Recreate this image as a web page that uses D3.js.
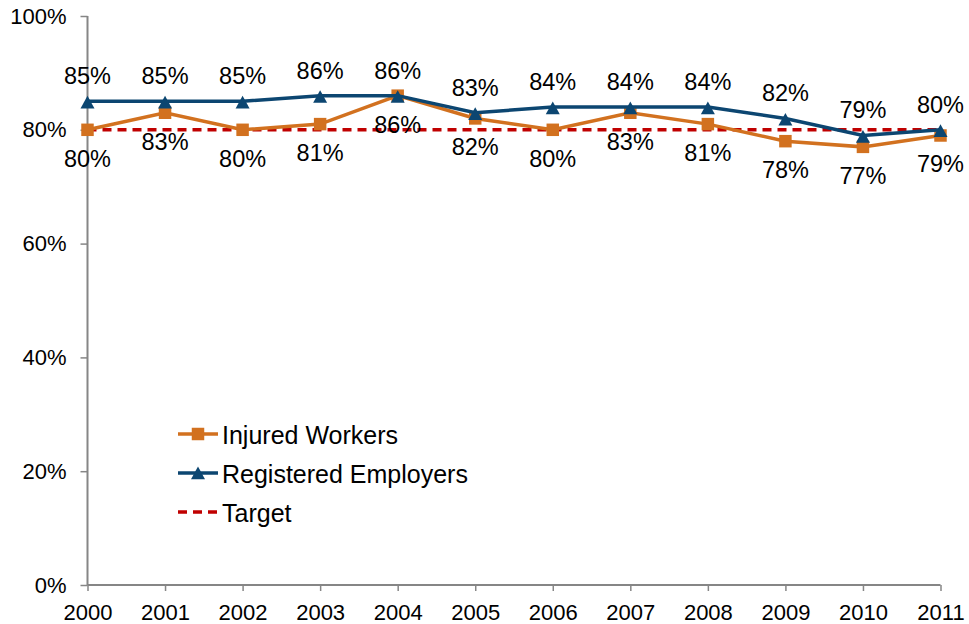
<!DOCTYPE html>
<html>
<head>
<meta charset="utf-8">
<script src="https://cdn.jsdelivr.net/npm/d3@7"></script>
<style>
  body { margin: 0; background: #fff; }
  text { font-family: "Liberation Sans", Arial, sans-serif; fill: #000; }
</style>
</head>
<body>
<svg id="chart" width="969" height="624"></svg>
<script>
// Data
var years = ["2000","2001","2002","2003","2004","2005","2006","2007","2008","2009","2010","2011"]
var injured_workers = [80, 83, 80, 81, 86, 82, 80, 83, 81, 78, 77, 79]
var registered_employers = [85, 85, 85, 86, 86, 83, 84, 84, 84, 82, 79, 80]
var target = [80, 80, 80, 80, 80, 80, 80, 80, 80, 80, 80, 80]
var y_ticks = [0, 20, 40, 60, 80, 100]

var svg = d3.select("#chart")

var x = d3.scalePoint().domain(years).range([87.5, 940.5])
var y = d3.scaleLinear().domain([0, 100]).range([585, 16])

var axis_colour = "#868686"
var orange = "#D2711F"
var navy = "#0C4671"
var red = "#C00000"

// Axes
var yAxis = svg.append("g")
    .attr("transform", "translate(87.5,0)")
    .call(d3.axisLeft(y).tickValues(y_ticks).tickSize(7).tickPadding(14)
        .tickFormat(function(d) { return d + "%" }))
var xAxis = svg.append("g")
    .attr("transform", "translate(0,585)")
    .call(d3.axisBottom(x).tickSize(6).tickPadding(6))

svg.selectAll(".domain").attr("stroke", axis_colour).attr("stroke-width", 2)
svg.selectAll(".tick line").attr("stroke", axis_colour).attr("stroke-width", 1.5)
svg.selectAll(".tick text").style("font-size", "22px").attr("fill", "#000")
xAxis.selectAll(".tick text").attr("dy", "0").attr("y", 35)
yAxis.selectAll(".domain").attr("d", "M0,585V16")
xAxis.selectAll(".domain").attr("d", "M87.5,0H940.5")

var line = d3.line()
    .x(function(d, i) { return x(years[i]) })
    .y(function(d) { return y(d) })

// Target
svg.append("path")
    .datum(target)
    .attr("d", line)
    .attr("fill", "none")
    .attr("stroke", red)
    .attr("stroke-width", 3.5)
    .attr("stroke-dasharray", "9,6")

// Injured workers
svg.append("path")
    .datum(injured_workers)
    .attr("d", line)
    .attr("fill", "none")
    .attr("stroke", orange)
    .attr("stroke-width", 3.5)

var square = d3.symbol().type(d3.symbolSquare).size(156)
// triangle with its box centred on the point
function triangle() {
  var p = d3.path()
  p.moveTo(0, -6.5); p.lineTo(7, 6.2); p.lineTo(-7, 6.2); p.closePath()
  return p.toString()
}

svg.selectAll(".injured_marker")
    .data(injured_workers)
    .enter().append("path")
    .attr("class", "injured_marker")
    .attr("d", square)
    .attr("fill", orange)
    .attr("transform", function(d, i) { return "translate(" + x(years[i]) + "," + y(d) + ")" })

// Registered employers
svg.append("path")
    .datum(registered_employers)
    .attr("d", line)
    .attr("fill", "none")
    .attr("stroke", navy)
    .attr("stroke-width", 3.5)

svg.selectAll(".employer_marker")
    .data(registered_employers)
    .enter().append("path")
    .attr("class", "employer_marker")
    .attr("d", triangle)
    .attr("fill", navy)
    .attr("transform", function(d, i) { return "translate(" + x(years[i]) + "," + (y(d) + 1) + ")" })

// Data labels
svg.selectAll(".employer_label")
    .data(registered_employers)
    .enter().append("text")
    .attr("class", "employer_label")
    .attr("x", function(d, i) { return x(years[i]) })
    .attr("y", function(d) { return y(d) - 17 })
    .attr("text-anchor", "middle")
    .style("font-size", "23.5px")
    .text(function(d) { return d + "%" })

svg.selectAll(".injured_label")
    .data(injured_workers)
    .enter().append("text")
    .attr("class", "injured_label")
    .attr("x", function(d, i) { return x(years[i]) })
    .attr("y", function(d) { return y(d) + 37 })
    .attr("text-anchor", "middle")
    .style("font-size", "23.5px")
    .text(function(d) { return d + "%" })

// Legend
var legend_items = [
  {name: "Injured Workers", colour: orange, marker: square, dash: null},
  {name: "Registered Employers", colour: navy, marker: triangle, dash: null},
  {name: "Target", colour: red, marker: null, dash: "9,6"}
]

var legend = svg.selectAll(".legend")
    .data(legend_items)
    .enter().append("g")
    .attr("class", "legend")
    .attr("transform", function(d, i) { return "translate(178," + (434 + i * 39) + ")" })

legend.append("line")
    .attr("x1", 0).attr("x2", 40)
    .attr("stroke", function(d) { return d.colour })
    .attr("stroke-width", 3.5)
    .attr("stroke-dasharray", function(d) { return d.dash })

legend.filter(function(d) { return d.marker })
    .append("path")
    .attr("d", function(d) { return d.marker() })
    .attr("fill", function(d) { return d.colour })
    .attr("transform", "translate(20,0)")

legend.append("text")
    .attr("x", 44)
    .attr("y", 9.5)
    .style("font-size", "25px")
    .text(function(d) { return d.name })
</script>
</body>
</html>
